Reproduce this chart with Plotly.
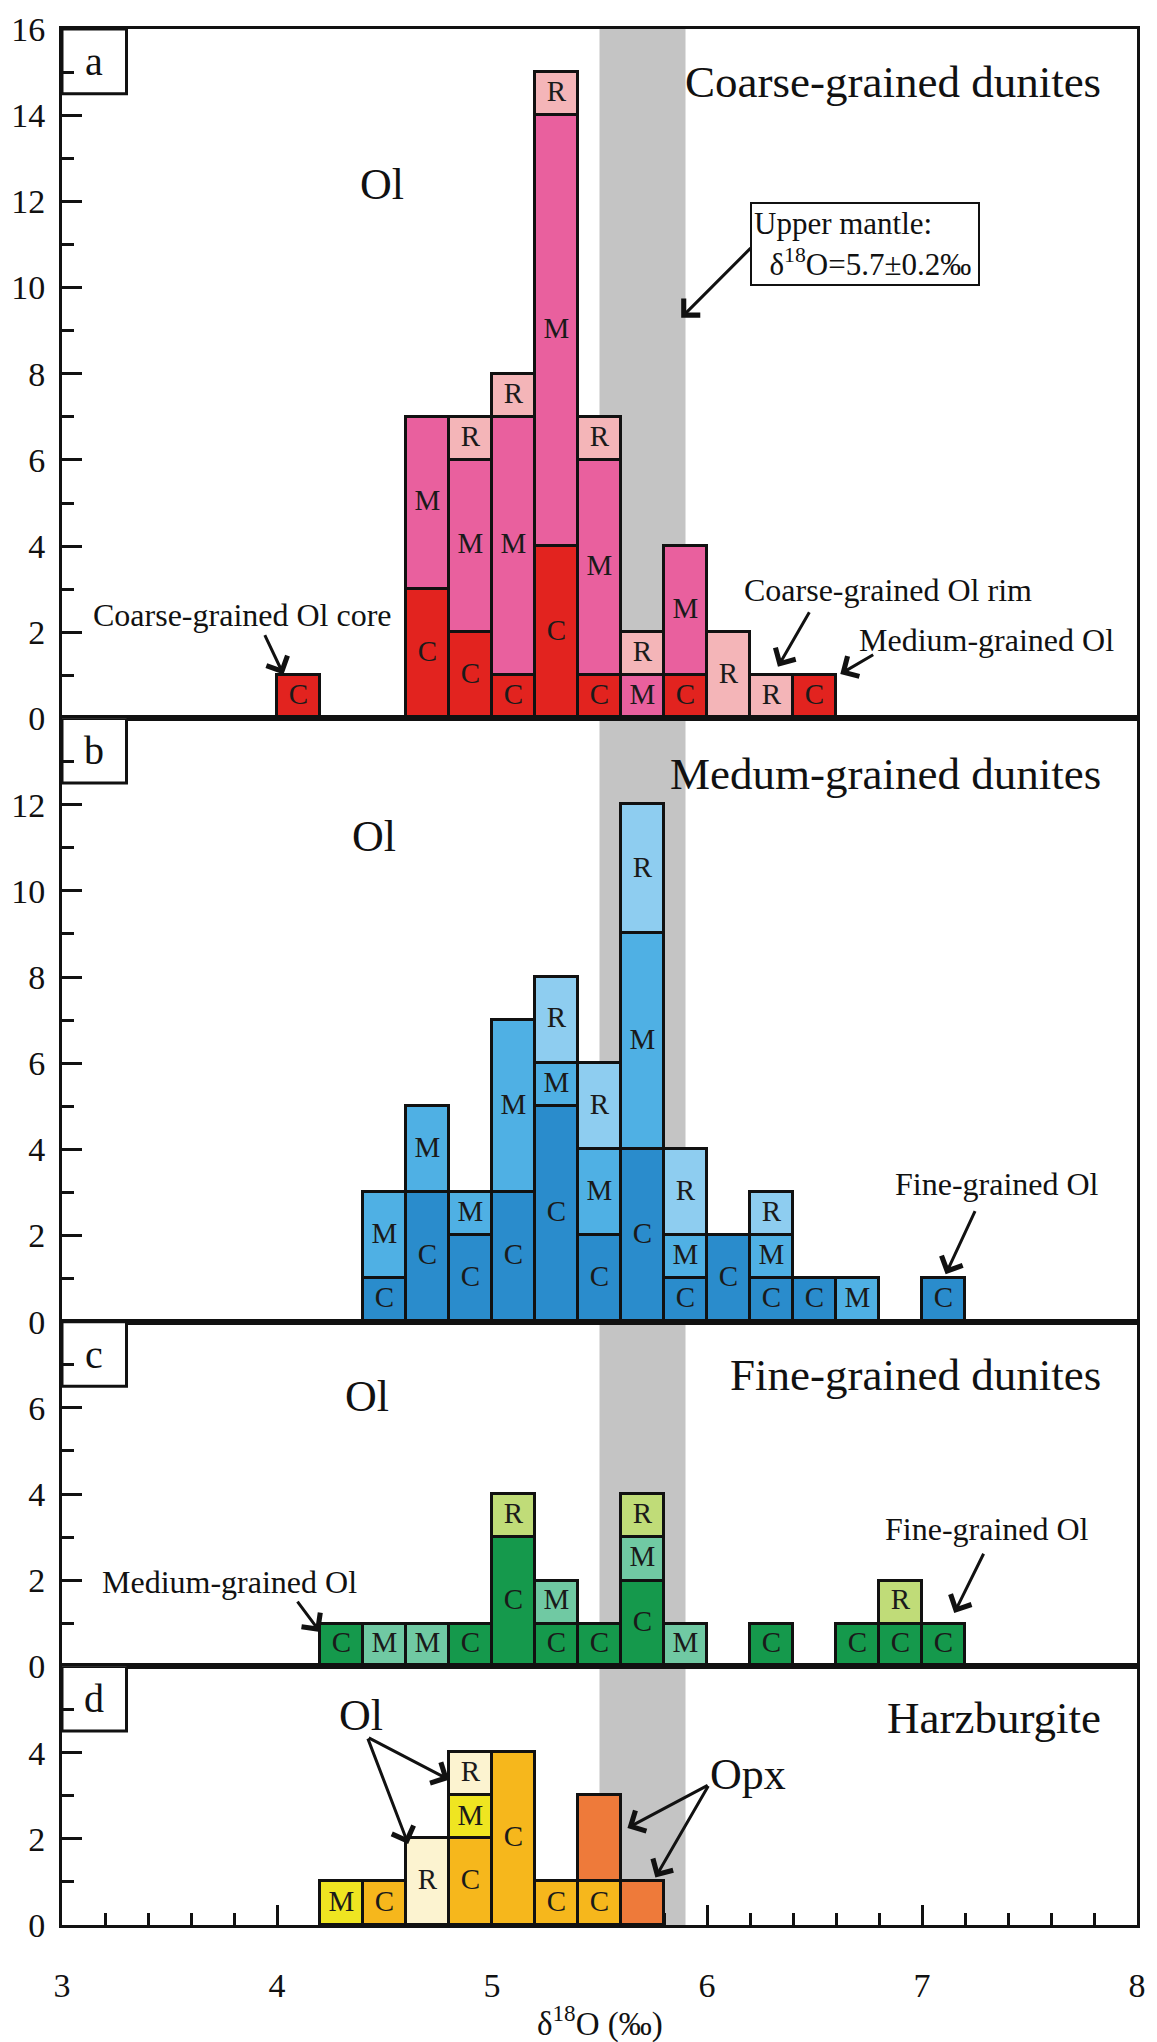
import plotly.graph_objects as go
from plotly.subplots import make_subplots

# ---------------- data (bin left edges, counts) ----------------
BIN_WIDTH = 0.2

# (a) Coarse-grained dunites
a_bins = [4.0, 4.6, 4.8, 5.0, 5.2, 5.4, 5.6, 5.8, 6.0, 6.2, 6.4]
a_C = [1, 3, 2, 1, 4, 1, None, 1, None, None, 1]
a_M = [None, 4, 4, 6, 10, 5, 1, 3, None, None, None]
a_R = [None, None, 1, 1, 1, 1, 1, None, 2, 1, None]

# (b) Medium-grained dunites
b_bins = [4.4, 4.6, 4.8, 5.0, 5.2, 5.4, 5.6, 5.8, 6.0, 6.2, 6.4, 6.6, 7.0]
b_C = [1, 3, 2, 3, 5, 2, 4, 1, 2, 1, 1, None, 1]
b_M = [2, 2, 1, 4, 1, 2, 5, 1, None, 1, None, 1, None]
b_R = [None, None, None, None, 2, 2, 3, 2, None, 1, None, None, None]

# (c) Fine-grained dunites
c_bins = [4.2, 4.4, 4.6, 4.8, 5.0, 5.2, 5.4, 5.6, 5.8, 6.2, 6.6, 6.8, 7.0]
c_C = [1, None, None, 1, 3, 1, 1, 2, None, 1, 1, 1, 1]
c_M = [None, 1, 1, None, None, 1, None, 1, 1, None, None, None, None]
c_R = [None, None, None, None, 1, None, None, 1, None, None, None, 1, None]

# (d) Harzburgite
d_bins = [4.2, 4.4, 4.6, 4.8, 5.0, 5.2, 5.4, 5.6]
d_C = [None, 1, None, 2, 4, 1, 1, None]
d_M = [1, None, None, 1, None, None, None, None]
d_R = [None, None, 2, 1, None, None, None, None]
d_Opx = [None, None, None, None, None, None, 2, 1]

y_ranges = [16, 14, 8, 6]
y_label_max = [16, 12, 6, 4]
panel_letters = ["a", "b", "c", "d"]
panel_titles = ["Coarse-grained dunites", "Medum-grained dunites",
                "Fine-grained dunites", "Harzburgite"]
mantle_lo, mantle_hi = 5.5, 5.9
x_ticks = [3, 4, 5, 6, 7, 8]

# ---------------- style ----------------
FONT = "Liberation Serif, Times New Roman, serif"
BLACK = "#111111"
colors = [
    {"C": "#e2231f", "M": "#e9609e", "R": "#f4b5b8"},
    {"C": "#2a8ccc", "M": "#4fb0e4", "R": "#8ecdf0"},
    {"C": "#15994c", "M": "#70c9a3", "R": "#c0dc78"},
    {"C": "#f6b71c", "M": "#efe521", "R": "#fcf3d0", "Opx": "#ee7a3a"},
]

panels = [
    (a_bins, {"C": a_C, "M": a_M, "R": a_R}),
    (b_bins, {"C": b_C, "M": b_M, "R": b_R}),
    (c_bins, {"C": c_C, "M": c_M, "R": c_R}),
    (d_bins, {"C": d_C, "M": d_M, "R": d_R, "Opx": d_Opx}),
]

fig = make_subplots(rows=4, cols=1, shared_xaxes=True, vertical_spacing=0,
                    row_heights=y_ranges)

for i, (bins, series) in enumerate(panels):
    row = i + 1
    base = [0.0] * len(bins)
    lx, ly, lt = [], [], []
    for name, vals in series.items():
        fig.add_trace(go.Bar(
            x=bins, y=vals, width=BIN_WIDTH, offset=0,
            marker=dict(color=colors[i][name], line=dict(color=BLACK, width=3)),
            hoverinfo="skip", showlegend=False,
        ), row=row, col=1)
        for k, v in enumerate(vals):
            if v:
                if name != "Opx":
                    lx.append(bins[k] + BIN_WIDTH / 2)
                    ly.append(base[k] + v / 2)
                    lt.append(name)
                base[k] += v
    fig.add_trace(go.Scatter(
        x=lx, y=ly, text=lt, mode="text", cliponaxis=False,
        textfont=dict(family=FONT, size=29, color="#1a1a1a"),
        hoverinfo="skip", showlegend=False), row=row, col=1)
    # mantle band
    fig.add_vrect(x0=mantle_lo, x1=mantle_hi, fillcolor="#c4c4c4", opacity=1,
                  line_width=0, layer="below", row=row, col=1)
    # panel letter box
    xr = "x" if row == 1 else f"x{row}"
    yr = "y" if row == 1 else f"y{row}"
    fig.add_shape(type="rect", xref=xr, yref=yr, x0=3, x1=3.3,
                  y0=y_ranges[i] - 1.5, y1=y_ranges[i],
                  line=dict(color=BLACK, width=3), fillcolor="white", layer="below")
    fig.add_annotation(xref=xr, yref=yr, x=3.15, y=y_ranges[i] - 0.75,
                       text=panel_letters[i], showarrow=False,
                       font=dict(family=FONT, size=40, color=BLACK))
    # y axis
    fig.update_yaxes(
        range=[0, y_ranges[i]], tickmode="array",
        tickvals=list(range(0, y_label_max[i] + 1, 2)),
        ticks="inside", ticklen=20, tickwidth=3, tickcolor=BLACK,
        minor=dict(tickmode="array", tickvals=list(range(0, y_ranges[i] + 1)),
                   ticks="inside", ticklen=12, tickwidth=3, tickcolor=BLACK),
        showline=True, linewidth=3, linecolor=BLACK, mirror=True,
        showgrid=False, zeroline=False,
        tickfont=dict(family=FONT, size=34, color=BLACK),
        ticklabelstandoff=7, ticklabeloverflow="allow",
        row=row, col=1)
    fig.update_xaxes(range=[3, 8], showline=True, linewidth=3, linecolor=BLACK,
                     mirror=True, showgrid=False, zeroline=False,
                     row=row, col=1)
    # panel title
    fig.add_annotation(xref=xr, yref=yr, x=7.84, y={0: 14.78, 1: 12.7, 2: 6.77, 3: 4.8}[i],
                       xanchor="right", text=panel_titles[i], showarrow=False,
                       font=dict(family=FONT, size=45, color=BLACK))

fig.update_xaxes(ticks="", showticklabels=False, row=1, col=1)
fig.update_xaxes(ticks="", showticklabels=False, row=2, col=1)
fig.update_xaxes(ticks="", showticklabels=False, row=3, col=1)
fig.update_xaxes(tickmode="array", tickvals=x_ticks, ticks="inside", ticklen=20,
                 tickwidth=3, tickcolor=BLACK, showticklabels=True,
                 minor=dict(tickmode="linear", tick0=3, dtick=0.2, ticks="inside",
                            ticklen=12, tickwidth=3, tickcolor=BLACK),
                 tickfont=dict(family=FONT, size=34, color=BLACK),
                 ticklabelstandoff=28, ticklabeloverflow="allow",
                 layer="below traces", row=4, col=1)

# ---------------- text annotations ----------------
def txt(xr, yr, x, y, s, size, **kw):
    fig.add_annotation(xref=xr, yref=yr, x=x, y=y, text=s, showarrow=False,
                       font=dict(family=FONT, size=size, color=BLACK), **kw)

def arrow(xr, yr, x0, y0, x1, y1):
    fig.add_annotation(xref=xr, yref=yr, axref=xr, ayref=yr, x=x1, y=y1, ax=x0, ay=y0,
                       text="", showarrow=True, arrowhead=4, arrowsize=1.5,
                       arrowwidth=3, arrowcolor=BLACK, standoff=0, startstandoff=0)

# Ol labels
txt("x", "y", 4.49, 12.4, "Ol", 44)
txt("x2", "y2", 4.45, 11.25, "Ol", 44)
txt("x3", "y3", 4.42, 6.27, "Ol", 44)
txt("x4", "y4", 4.39, 4.86, "Ol", 44)
txt("x4", "y4", 6.19, 3.5, "Opx", 44)

# panel a
txt("x", "y", 3.84, 2.4, "Coarse-grained Ol core", 32)
arrow("x", "y", 3.94, 1.97, 4.03, 1.02)
txt("x", "y", 6.84, 2.98, "Coarse-grained Ol rim", 32)
arrow("x", "y", 6.48, 2.5, 6.33, 1.2)
txt("x", "y", 7.3, 1.81, "Medium-grained Ol", 32)
arrow("x", "y", 6.78, 1.5, 6.62, 1.03)
fig.add_annotation(xref="x", yref="y", x=6.735, y=11.0,
                   text="Upper mantle:<br>\u00a0\u00a0δ<sup>18</sup>O=5.7±0.2‰",
                   showarrow=False, align="left", width=222, height=76,
                   bordercolor=BLACK, borderwidth=2, borderpad=2, bgcolor="white",
                   font=dict(family=FONT, size=31, color=BLACK))
arrow("x", "y", 6.21, 10.95, 5.88, 9.3)

# panel b
txt("x2", "y2", 7.35, 3.19, "Fine-grained Ol", 32)
arrow("x2", "y2", 7.25, 2.6, 7.11, 1.1)

# panel c
txt("x3", "y3", 3.78, 1.96, "Medium-grained Ol", 32)
arrow("x3", "y3", 4.09, 1.54, 4.2, 0.8)
txt("x3", "y3", 7.3, 3.2, "Fine-grained Ol", 32)
arrow("x3", "y3", 7.29, 2.65, 7.15, 1.24)

# panel d
arrow("x4", "y4", 4.42, 4.36, 4.8, 3.37)
arrow("x4", "y4", 4.42, 4.36, 4.61, 1.88)
arrow("x4", "y4", 6.01, 3.26, 5.63, 2.25)
arrow("x4", "y4", 6.01, 3.26, 5.76, 1.1)

# x axis title
fig.add_annotation(xref="paper", yref="paper", x=0.5, y=0, yshift=-96,
                   text="δ<sup>18</sup>O (‰)", showarrow=False, yanchor="middle",
                   font=dict(family=FONT, size=33, color=BLACK))

fig.update_layout(
    width=1157, height=2042, barmode="stack", bargap=0,
    margin=dict(l=52, r=14, t=11, b=117),
    paper_bgcolor="white", plot_bgcolor="white", showlegend=False,
)

fig.write_html("out.html")
